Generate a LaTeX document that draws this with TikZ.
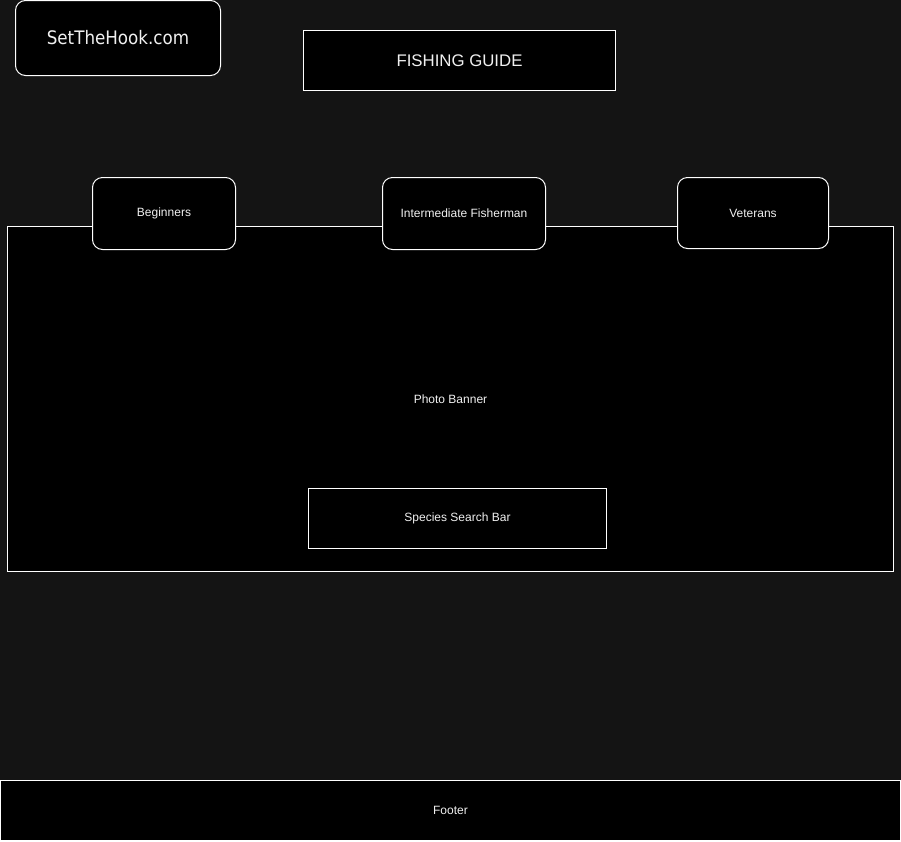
\documentclass[tikz,border=0pt]{standalone}
\usepackage{fontspec}
\setmainfont{Liberation Sans}
\newfontfamily\logofont{DejaVu Sans Condensed}
\definecolor{pagebg}{HTML}{141414}
\definecolor{ink}{HTML}{F0F0F0}
\begin{document}
\begin{tikzpicture}[x=1pt,y=-1pt,
  box/.style={draw=white,fill=black,line width=1pt,text=ink,inner sep=0pt,
    font=\fontsize{12}{14}\selectfont},
  roundbox/.style={box,rounded corners=10pt},
  size/.style 2 args={minimum width=#1pt,minimum height=#2pt}]
  % page background
  \fill[pagebg] (0,0) rectangle (901,841);
  \useasboundingbox (0,0) rectangle (901,841);

  % header
  \node[roundbox,size={205}{75},font=\logofont\fontsize{18.6}{22}\selectfont]
    (logo) at (118,38) {SetTheHook.com};
  \node[box,size={312}{60},font=\fontsize{16.8}{20}\selectfont]
    (title) at (459.5,60.5) {FISHING GUIDE};

  % photo banner with the search bar inside it
  \node[box,size={886}{345}] (banner) at (450.5,399) {Photo Banner};
  \node[box,size={298}{60}] (search) at (457.5,518.5) {Species Search Bar};

  % level tabs over the top edge of the banner
  \node[roundbox,size={143}{72}] (beg) at (164,213.5) {Beginners};
  \node[roundbox,size={163}{72}] (mid) at (464,213.5) {Intermediate Fisherman};
  \node[roundbox,size={151}{71}] (vet) at (753,213) {Veterans};

  % footer
  \node[box,size={900}{60}] (footer) at (450.5,810.5) {Footer};
\end{tikzpicture}
\end{document}
